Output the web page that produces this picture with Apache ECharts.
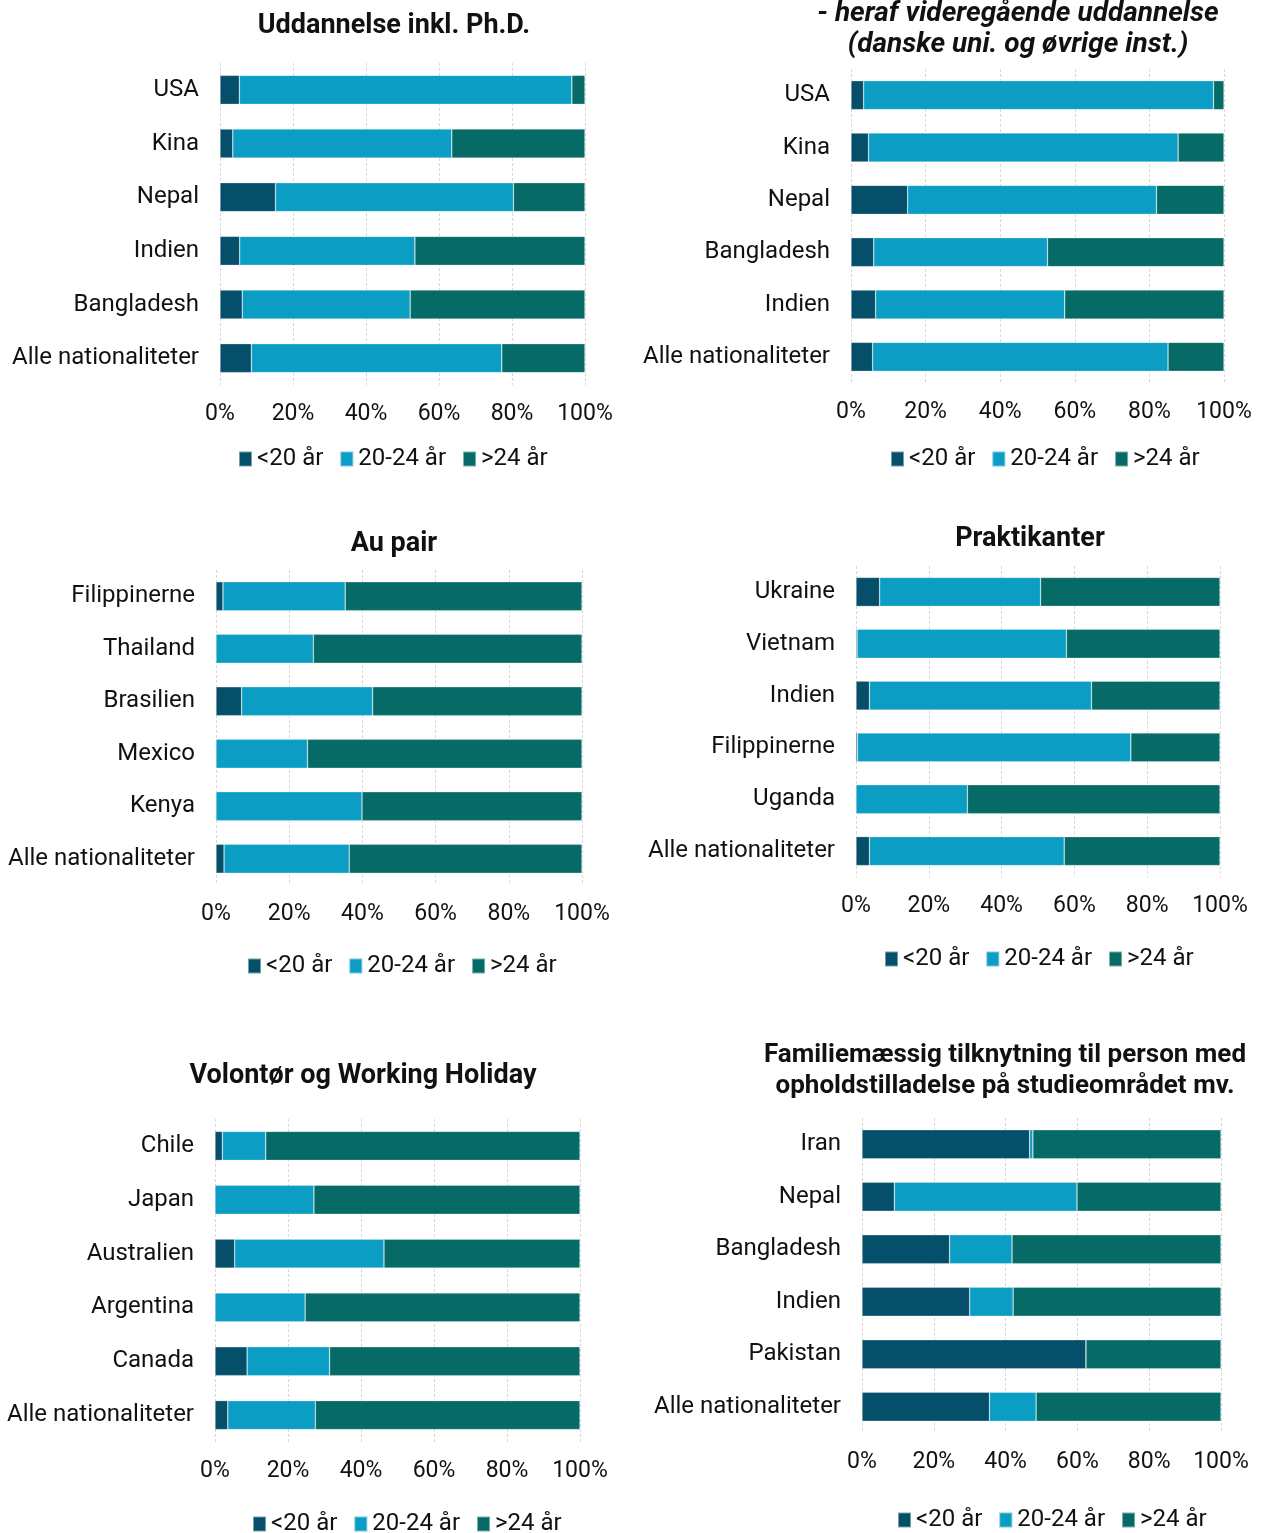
<!DOCTYPE html>
<html>
<head>
<meta charset="utf-8">
<script src="https://cdn.jsdelivr.net/npm/echarts@6/dist/echarts.min.js"></script>
<style>
html,body{margin:0;padding:0;background:#fff;}
#c{width:1262px;height:1533px;}
</style>
</head>
<body>
<div id="c"></div>
<script>
// ---- data ----
const seriesNames = ['<20 år', '20-24 år', '>24 år'];
const tickMin = 0, tickMax = 100, tickStep = 20;

const title1 = 'Uddannelse inkl. Ph.D.';
const cats1 = ['USA', 'Kina', 'Nepal', 'Indien', 'Bangladesh', 'Alle nationaliteter'];
const under20_1 = [5.3, 3.5, 15.2, 5.4, 6.1, 8.6];
const age2024_1 = [91.1, 60.0, 65.2, 48.0, 46.0, 68.6];
const over24_1 = [3.6, 36.5, 19.6, 46.6, 47.9, 22.8];

const title2 = '- heraf videregående uddannelse\n(danske uni. og øvrige inst.)';
const cats2 = ['USA', 'Kina', 'Nepal', 'Bangladesh', 'Indien', 'Alle nationaliteter'];
const under20_2 = [3.4, 4.7, 15.2, 6.1, 6.6, 5.8];
const age2024_2 = [93.8, 83.0, 66.7, 46.6, 50.7, 79.2];
const over24_2 = [2.8, 12.3, 18.1, 47.3, 42.7, 15.0];

const title3 = 'Au pair';
const cats3 = ['Filippinerne', 'Thailand', 'Brasilien', 'Mexico', 'Kenya', 'Alle nationaliteter'];
const under20_3 = [1.9, 0, 7.0, 0, 0, 2.2];
const age2024_3 = [33.4, 26.6, 35.8, 25.0, 39.9, 34.2];
const over24_3 = [64.7, 73.4, 57.2, 75.0, 60.1, 63.6];

const title4 = 'Praktikanter';
const cats4 = ['Ukraine', 'Vietnam', 'Indien', 'Filippinerne', 'Uganda', 'Alle nationaliteter'];
const under20_4 = [6.5, 0.3, 3.7, 0.4, 0, 3.7];
const age2024_4 = [44.2, 57.5, 61.0, 75.1, 30.6, 53.5];
const over24_4 = [49.3, 42.2, 35.3, 24.5, 69.4, 42.8];

const title5 = 'Volontør og Working Holiday';
const cats5 = ['Chile', 'Japan', 'Australien', 'Argentina', 'Canada', 'Alle nationaliteter'];
const under20_5 = [2.0, 0, 5.4, 0, 8.8, 3.5];
const age2024_5 = [11.9, 27.1, 40.9, 24.7, 22.6, 24.0];
const over24_5 = [86.1, 72.9, 53.7, 75.3, 68.6, 72.5];

const title6 = 'Familiemæssig tilknytning til person med\nopholdstilladelse på studieområdet mv.';
const cats6 = ['Iran', 'Nepal', 'Bangladesh', 'Indien', 'Pakistan', 'Alle nationaliteter'];
const under20_6 = [46.7, 9.0, 24.4, 30.0, 62.4, 35.5];
const age2024_6 = [0.9, 50.9, 17.4, 12.1, 0, 13.0];
const over24_6 = [52.4, 40.1, 58.2, 57.9, 37.6, 51.5];

// ---- layout & style ----
const colors = ['#064f6b', '#0b9dc4', '#066b66'];
const FONT = 'Roboto';
const TXT = '#111';

const panels = [
  {title: title1, italic: false, ts: 27, cats: cats1, vals: [under20_1, age2024_1, over24_1],
   grid: {left: 220, top: 63, width: 365, height: 322}, tx: 394, ty: 26, legend: {left: 238, top: 447}},
  {title: title2, italic: true, ts: 28, cats: cats2, vals: [under20_2, age2024_2, over24_2],
   grid: {left: 851, top: 69, width: 373, height: 314}, tx: 1018, ty: 29, legend: {left: 890, top: 447}},
  {title: title3, italic: false, ts: 27, cats: cats3, vals: [under20_3, age2024_3, over24_3],
   grid: {left: 216, top: 570, width: 366, height: 315}, tx: 394, ty: 544, legend: {left: 247, top: 954}},
  {title: title4, italic: false, ts: 27, cats: cats4, vals: [under20_4, age2024_4, over24_4],
   grid: {left: 856, top: 566, width: 364, height: 311}, tx: 1030, ty: 539, legend: {left: 884, top: 947}},
  {title: title5, italic: false, ts: 27, cats: cats5, vals: [under20_5, age2024_5, over24_5],
   grid: {left: 215, top: 1119, width: 365, height: 323}, tx: 363, ty: 1076, legend: {left: 252, top: 1512}},
  {title: title6, italic: false, ts: 26, cats: cats6, vals: [under20_6, age2024_6, over24_6],
   grid: {left: 862, top: 1118, width: 359, height: 315}, tx: 1005, ty: 1071, legend: {left: 897, top: 1508}}
];

const grids = [], xAxes = [], yAxes = [], series = [], legends = [], graphics = [];
panels.forEach((p, i) => {
  grids.push(Object.assign({containLabel: false}, p.grid));
  xAxes.push({
    type: 'value', gridIndex: i, min: tickMin, max: tickMax, interval: tickStep,
    axisLine: {show: false}, axisTick: {show: false},
    axisLabel: {formatter: '{value}%', fontFamily: FONT, fontSize: 23, color: TXT, margin: 18},
    splitLine: {show: true, lineStyle: {color: '#d9d9d9', type: [3, 2], width: 1}}
  });
  yAxes.push({
    type: 'category', gridIndex: i, data: p.cats, inverse: true,
    axisLine: {show: false}, axisTick: {show: false},
    axisLabel: {fontFamily: FONT, fontSize: 24, color: TXT, margin: 21}
  });
  p.vals.forEach((arr, k) => {
    series.push({
      type: 'bar', name: seriesNames[k], xAxisIndex: i, yAxisIndex: i, stack: 'p' + i,
      data: arr, barWidth: 29,
      itemStyle: {color: colors[k], borderColor: 'rgba(255,255,255,0.45)', borderWidth: 0.6},
      emphasis: {disabled: true}, animation: false
    });
  });
  legends.push({
    data: seriesNames, left: p.legend.left, top: p.legend.top, padding: 0,
    itemWidth: 13, itemHeight: 15, itemGap: 16, icon: 'rect', selectedMode: false,
    textStyle: {fontFamily: FONT, fontSize: 24, color: TXT}
  });
  graphics.push({
    type: 'text', x: p.tx, y: p.ty,
    style: {text: p.title, fill: TXT, textAlign: 'center', textVerticalAlign: 'middle',
      font: (p.italic ? 'italic ' : '') + 'bold ' + p.ts + 'px ' + FONT, lineHeight: 31}
  });
});

const chart = echarts.init(document.getElementById('c'), null, {renderer: 'canvas'});
chart.setOption({
  animation: false,
  grid: grids, xAxis: xAxes, yAxis: yAxes, series: series, legend: legends,
  graphic: graphics
});
</script>
</body>
</html>
